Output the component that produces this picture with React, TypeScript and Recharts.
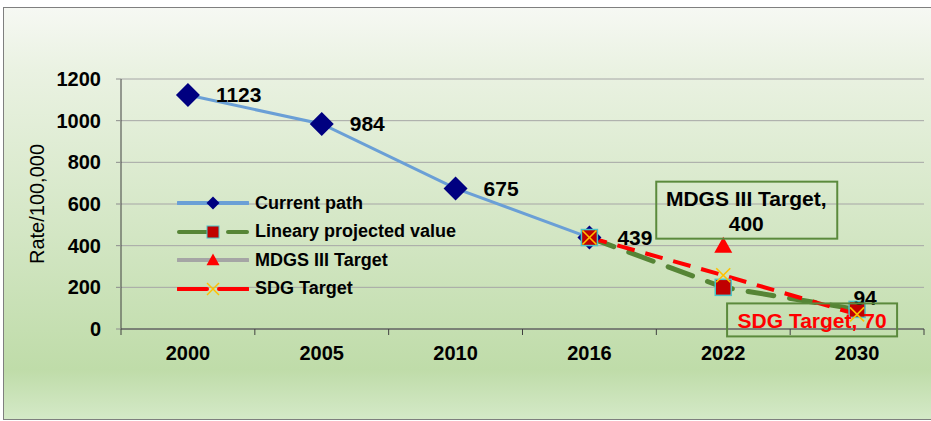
import { ComposedChart, Line, XAxis, YAxis, CartesianGrid, Legend, LabelList } from 'recharts'

const categories = ['2000', '2005', '2010', '2016', '2022', '2030']
const currentPath = [1123, 984, 675, 439, null, null]
const linearProjected = [null, null, null, 439, 200, 94]
const mdgsTarget = [null, null, null, null, 400, null]
const sdgTarget = [null, null, null, 439, 258, 70]
const yTicks = [0, 200, 400, 600, 800, 1000, 1200]
const seriesNames = ['Current path', 'Lineary projected value', 'MDGS III Target', 'SDG Target']

const chartData = categories.map((year, i) => ({
  year,
  current: currentPath[i],
  linear: linearProjected[i],
  mdgs: mdgsTarget[i],
  sdg: sdgTarget[i],
}))

const FONT = '"Liberation Sans", Arial, sans-serif'
const BLUE = '#6a9fd6'
const NAVY = '#000080'
const GREEN = '#568536'
const DARK_RED = '#c00000'
const CYAN = '#4bc3c8'
const RED = '#ff0000'
const ORANGE = '#ffc000'
const GRAY_LINE = '#a5a5a5'
const BOX_GREEN = '#5b8a3c'

// marker shapes
const diamondPath = (cx: number, cy: number, r: number) =>
  `M${cx},${cy - r}L${cx + r},${cy}L${cx},${cy + r}L${cx - r},${cy}Z`
const trianglePath = (cx: number, cy: number, r: number) =>
  `M${cx},${cy - r}L${cx + r},${cy + r * 0.8}L${cx - r},${cy + r * 0.8}Z`

const Diamond = (p: any) => {
  if (p.cx == null || p.cy == null || p.value == null) return <g key={p.key} />
  return <path key={p.key} d={diamondPath(p.cx, p.cy, 12)} fill={NAVY} />
}
const Square = (p: any) => {
  if (p.cx == null || p.cy == null || p.value == null) return <g key={p.key} />
  return <rect key={p.key} x={p.cx - 8} y={p.cy - 8} width={16} height={16} fill={DARK_RED} stroke={CYAN} strokeWidth={1.5} />
}
const Triangle = (p: any) => {
  if (p.cx == null || p.cy == null || p.value == null) return <g key={p.key} />
  return <path key={p.key} d={trianglePath(p.cx, p.cy, 9)} fill={RED} />
}
const Cross = (p: any) => {
  if (p.cx == null || p.cy == null || p.value == null) return <g key={p.key} />
  const r = 7
  return (
    <g key={p.key} stroke={ORANGE} strokeWidth={1.6}>
      <line x1={p.cx - r} y1={p.cy - r} x2={p.cx + r} y2={p.cy + r} />
      <line x1={p.cx - r} y1={p.cy + r} x2={p.cx + r} y2={p.cy - r} />
    </g>
  )
}

// x axis ticks sit between categories, like Excel
const XTick = (props: any) => {
  const { x, y, payload, index, visibleTicksCount } = props
  const half = payload.offset || 67
  const axisY = y - 17
  const last = index === visibleTicksCount - 1
  return (
    <g>
      <line x1={x - half} x2={x - half} y1={axisY} y2={axisY + 6} stroke="#404040" />
      {last && <line x1={x + half} x2={x + half} y1={axisY} y2={axisY + 6} stroke="#404040" />}
      <text x={x} y={y} dy="0.71em" textAnchor="middle" fontSize={20} fontWeight="bold" fill="#000" fontFamily={FONT}>
        {payload.value}
      </text>
    </g>
  )
}

const YLabel = (props: any) => {
  const vb = props.viewBox || { x: 0, y: 0, width: 0, height: 0 }
  const cx = vb.x + 33
  const cy = vb.y + vb.height / 2
  return (
    <text x={cx} y={cy} transform={`rotate(-90, ${cx}, ${cy})`} textAnchor="middle" dominantBaseline="central" fontSize={20} fill="#000" fontFamily={FONT}>
      Rate/100,000
    </text>
  )
}

const lastLinearLabel = (p: any) => {
  if (p.index !== linearProjected.length - 1 || p.value == null) return null
  return (
    <text x={p.x + 8} y={p.y - 12} textAnchor="middle" dominantBaseline="central" fontSize={21} fontWeight="bold" fill="#000" fontFamily={FONT}>
      {p.value}
    </text>
  )
}

const mdgsLabel = (p: any) => {
  if (p.value == null) return null
  return (
    <g>
      <rect x={p.x - 67} y={p.y - 64} width={181} height={57} fill="none" stroke={BOX_GREEN} strokeWidth={2} />
      <text x={p.x + 23} y={p.y - 47} textAnchor="middle" dominantBaseline="central" fontSize={21} fontWeight="bold" fill="#000" fontFamily={FONT}>
        {seriesNames[2]},
      </text>
      <text x={p.x + 23} y={p.y - 22} textAnchor="middle" dominantBaseline="central" fontSize={21} fontWeight="bold" fill="#000" fontFamily={FONT}>
        {p.value}
      </text>
    </g>
  )
}

const sdgLabel = (p: any) => {
  if (p.index !== sdgTarget.length - 1 || p.value == null) return null
  return (
    <g>
      <rect x={p.x - 130} y={p.y - 11} width={170} height={33} fill="none" stroke={BOX_GREEN} strokeWidth={2} />
      <text x={p.x - 45} y={p.y + 6} textAnchor="middle" dominantBaseline="central" fontSize={21} fontWeight="bold" fill={RED} fontFamily={FONT}>
        {seriesNames[3]}, {p.value}
      </text>
    </g>
  )
}

const legendSample = (i: number) => {
  if (i === 0)
    return (
      <svg width={72} height={20}>
        <line x1={1} x2={71} y1={10} y2={10} stroke={BLUE} strokeWidth={4} strokeLinecap="round" />
        <path d={diamondPath(36, 10, 6.5)} fill={NAVY} />
      </svg>
    )
  if (i === 1)
    return (
      <svg width={72} height={20}>
        <line x1={2} x2={30} y1={10} y2={10} stroke={GREEN} strokeWidth={4} strokeLinecap="round" />
        <line x1={51} x2={70} y1={10} y2={10} stroke={GREEN} strokeWidth={4} strokeLinecap="round" />
        <rect x={30} y={4} width={12} height={12} fill={DARK_RED} stroke={CYAN} strokeWidth={1} />
      </svg>
    )
  if (i === 2)
    return (
      <svg width={72} height={20}>
        <line x1={1} x2={71} y1={10} y2={10} stroke={GRAY_LINE} strokeWidth={4} strokeLinecap="round" />
        <path d={trianglePath(36, 10, 6.5)} fill={RED} />
      </svg>
    )
  return (
    <svg width={72} height={20}>
      <line x1={1} x2={30} y1={10} y2={10} stroke={RED} strokeWidth={4} strokeLinecap="round" />
      <line x1={42} x2={71} y1={10} y2={10} stroke={RED} strokeWidth={4} strokeLinecap="round" />
      <g stroke={ORANGE} strokeWidth={1.4}>
        <line x1={30} y1={4} x2={42} y2={16} />
        <line x1={30} y1={16} x2={42} y2={4} />
      </g>
    </svg>
  )
}

const renderLegend = () => (
  <div style={{ fontFamily: FONT }}>
    {seriesNames.map((name, i) => (
      <div key={name} style={{ display: 'flex', alignItems: 'center', height: 28.5 }}>
        {legendSample(i)}
        <span style={{ marginLeft: 6, fontSize: 18, fontWeight: 'bold', color: '#000' }}>{name}</span>
      </div>
    ))}
  </div>
)

export default function App() {
  return (
    <div
      style={{
        position: 'absolute',
        left: 3,
        top: 7,
        width: 928,
        height: 411,
        border: '1px solid #7f7f7f',
        background: 'linear-gradient(to bottom, #f6f8f3 0%, #eaf2e2 15%, #d3e6c4 55%, #bfdca9 88%, #d4e9c7 100%)',
        fontFamily: FONT,
      }}
    >
      <ComposedChart width={928} height={411} data={chartData} margin={{ top: 71, right: 8, bottom: 60, left: 0 }}>
        <CartesianGrid horizontal vertical={false} stroke="#a6a6a6" />
        <XAxis
          dataKey="year"
          scale="band"
          height={30}
          tickLine={false}
          tickSize={6}
          tickMargin={11}
          axisLine={{ stroke: '#404040' }}
          tick={<XTick />}
          interval={0}
        />
        <YAxis
          width={117}
          domain={[0, 1200]}
          ticks={yTicks}
          tickSize={5}
          tickMargin={15}
          axisLine={{ stroke: '#404040' }}
          tickLine={{ stroke: '#8c8c8c' }}
          tick={{ fill: '#000', fontSize: 20, fontWeight: 'bold', fontFamily: FONT }}
          label={<YLabel />}
        />
        <Legend
          layout="vertical"
          align="center"
          verticalAlign="middle"
          content={renderLegend}
          wrapperStyle={{ left: 173, top: 181, width: 300 }}
        />
        <Line name={seriesNames[0]} dataKey="current" stroke={BLUE} strokeWidth={3} dot={Diamond} activeDot={false} isAnimationActive={false}>
          <LabelList dataKey="current" position="right" offset={28} fill="#000" fontSize={21} fontWeight="bold" fontFamily={FONT} />
        </Line>
        <Line
          name={seriesNames[1]}
          dataKey="linear"
          stroke={GREEN}
          strokeWidth={5}
          strokeDasharray="26 16"
          strokeLinecap="round"
          dot={Square}
          activeDot={false}
          isAnimationActive={false}
        >
          <LabelList dataKey="linear" content={lastLinearLabel} />
        </Line>
        <Line name={seriesNames[2]} dataKey="mdgs" stroke={GRAY_LINE} strokeWidth={3} dot={Triangle} activeDot={false} isAnimationActive={false}>
          <LabelList dataKey="mdgs" content={mdgsLabel} />
        </Line>
        <Line
          name={seriesNames[3]}
          dataKey="sdg"
          stroke={RED}
          strokeWidth={4}
          strokeDasharray="18 11"
          dot={Cross}
          activeDot={false}
          isAnimationActive={false}
        >
          <LabelList dataKey="sdg" content={sdgLabel} />
        </Line>
      </ComposedChart>
    </div>
  )
}
